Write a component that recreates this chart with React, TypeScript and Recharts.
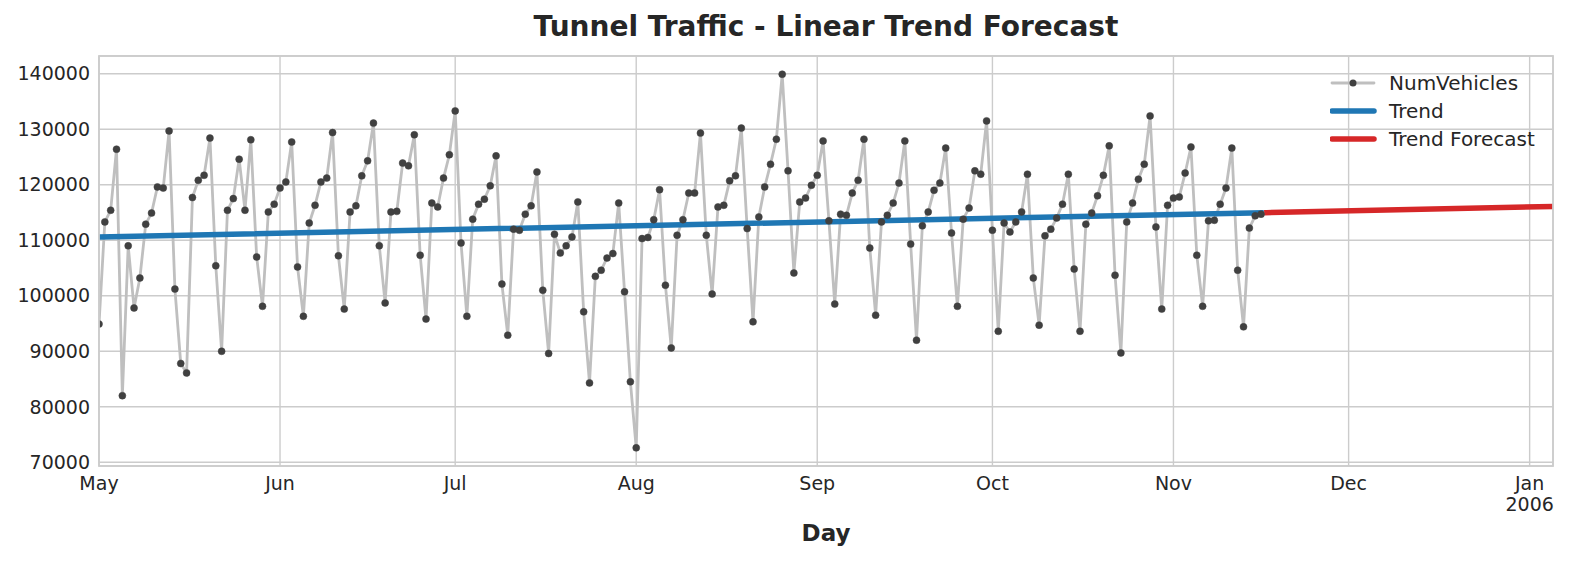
import { LineChart, Line, XAxis, YAxis, CartesianGrid } from 'recharts';

// daily NumVehicles, 2005-05-01 .. 2005-11-16
const numVehicles = [
  94900, 113300, 115400, 126400, 82000, 109000, 97800, 103200, 112900, 114900,
  119600, 119400, 129700, 101200, 87800, 86100, 117700, 120800, 121700, 128400,
  105400, 90000, 115400, 117500, 124600, 115400, 128100, 107000, 98100, 115100,
  116500, 119400, 120500, 127700, 105200, 96300, 113100, 116300, 120500, 121200,
  129400, 107200, 97600, 115100, 116200, 121600, 124300, 131100, 109000, 98700,
  115100, 115200, 123900, 123400, 129000, 107300, 95800, 116700, 116000, 121200,
  125400, 133300, 109500, 96300, 113800, 116500, 117400, 119800, 125200, 102100,
  92900, 112000, 111800, 114700, 116200, 122300, 101000, 89600, 111100, 107700,
  109000, 110600, 116900, 97100, 84300, 103500, 104600, 106800, 107600, 116700,
  100700, 84500, 72600, 110300, 110500, 113700, 119100, 101900, 90600, 110900,
  113700, 118500, 118500, 129300, 110900, 100300, 116000, 116300, 120700, 121600,
  130200, 112100, 95300, 114200, 119600, 123700, 128200, 139900, 122500, 104100,
  116900, 117600, 119900, 121700, 127900, 113500, 98500, 114700, 114500, 118500,
  120800, 128200, 108600, 96500, 113300, 114500, 116700, 120300, 127900, 109300,
  92000, 112600, 115100, 119000, 120300, 126600, 111300, 98100, 113800, 115800,
  122500, 121900, 131500, 111800, 93600, 113100, 111500, 113300, 115100, 121900,
  103200, 94700, 110800, 112000, 114000, 116500, 121900, 104800, 93600, 112900,
  114900, 118000, 121700, 127000, 103700, 89700, 113300, 116700, 121000, 123700,
  132400, 112400, 97600, 116300, 117600, 117800, 122100, 126800, 107300, 98100,
  113500, 113600, 116500, 119400, 126600, 104600, 94400, 112200, 114400, 114700,
];

// linear trend (fitted range) and its forecast, endpoints
const trendDays = [0, 199];
const trendValues = [110600, 114950];
const forecastDays = [200, 249];
const forecastValues = [114970, 116100];

// x = day number since May 1
const monthTicks = [0, 31, 61, 92, 123, 153, 184, 214, 245];
const monthLabels = ['May', 'Jun', 'Jul', 'Aug', 'Sep', 'Oct', 'Nov', 'Dec', 'Jan\n2006'];
const yTicks = [70000, 80000, 90000, 100000, 110000, 120000, 130000, 140000];

const W = 1569;
const H = 561;
const M = { top: 56, right: 16, bottom: 45, left: 0 };
const Y_AXIS_W = 99;
const X_AXIS_H = 50;
const plotLeft = M.left + Y_AXIS_W;
const plotRight = W - M.right;
const plotTop = M.top;
const plotBottom = H - M.bottom - X_AXIS_H;

const FONT = '"DejaVu Sans", sans-serif';
const TEXT = '#262626';
const GRID = '#cccccc';

const series = numVehicles.map((v, i) => ({ day: i, NumVehicles: v }));
const trend = trendDays.map((d, i) => ({ day: d, Trend: trendValues[i] }));
const forecast = forecastDays.map((d, i) => ({ day: d, Forecast: forecastValues[i] }));

function MonthTick({ x, y, payload }: any) {
  const idx = monthTicks.indexOf(payload.value);
  const lines = (monthLabels[idx] ?? '').split('\n');
  return (
    <text x={x} y={y} textAnchor="middle" fill={TEXT} fontSize={19} fontFamily={FONT}>
      {lines.map((l, i) => (
        <tspan key={i} x={x} dy={i === 0 ? 16 : 21}>{l}</tspan>
      ))}
    </text>
  );
}

const legendItems = [
  { name: 'NumVehicles', color: '#bfbfbf', width: 2.8, dot: true },
  { name: 'Trend', color: '#1f77b4', width: 5.5, dot: false },
  { name: 'Trend Forecast', color: '#d62728', width: 5.5, dot: false },
];

export default function App() {
  return (
    <div style={{ position: 'absolute', left: 0, top: 0, width: W, height: H, background: '#fff' }}>
      <LineChart width={W} height={H} margin={M}>
        <CartesianGrid stroke={GRID} strokeWidth={1.4} />
        <XAxis
          dataKey="day"
          type="number"
          domain={[0, 249]}
          ticks={monthTicks}
          allowDataOverflow
          height={X_AXIS_H}
          tickSize={0}
          tickMargin={8}
          tickLine={false}
          axisLine={false}
          tick={<MonthTick />}
          interval={0}
        />
        <YAxis
          type="number"
          domain={[69330, 143190]}
          ticks={yTicks}
          allowDataOverflow
          width={Y_AXIS_W}
          tickSize={0}
          tickMargin={9}
          tickLine={false}
          axisLine={false}
          tick={{ fill: TEXT, fontSize: 19, fontFamily: FONT }}
          interval={0}
        />
        <Line
          data={series}
          dataKey="NumVehicles"
          stroke="#bfbfbf"
          strokeWidth={2.8}
          dot={{ r: 3.5, fill: '#404040', stroke: '#404040', strokeWidth: 0.5 }}
          isAnimationActive={false}
        />
        <Line
          data={trend}
          dataKey="Trend"
          stroke="#1f77b4"
          strokeWidth={5.5}
          strokeLinecap="square"
          dot={false}
          isAnimationActive={false}
        />
        <Line
          data={forecast}
          dataKey="Forecast"
          stroke="#d62728"
          strokeWidth={5.5}
          strokeLinecap="square"
          dot={false}
          isAnimationActive={false}
        />
      </LineChart>

      <svg width={W} height={H} style={{ position: 'absolute', left: 0, top: 0, pointerEvents: 'none' }}>
        <rect
          x={plotLeft}
          y={plotTop}
          width={plotRight - plotLeft}
          height={plotBottom - plotTop}
          fill="none"
          stroke={GRID}
          strokeWidth={1.8}
        />
        <text
          x={(plotLeft + plotRight) / 2}
          y={36}
          textAnchor="middle"
          fontFamily={FONT}
          fontWeight="bold"
          fontSize={28}
          fill={TEXT}
        >
          Tunnel Traffic - Linear Trend Forecast
        </text>
        <text
          x={(plotLeft + plotRight) / 2}
          y={541}
          textAnchor="middle"
          fontFamily={FONT}
          fontWeight="bold"
          fontSize={23}
          fill={TEXT}
        >
          Day
        </text>
      </svg>

      <div style={{ position: 'absolute', left: 1330, top: 69, fontFamily: FONT, fontSize: 20, color: TEXT }}>
        {legendItems.map((it) => (
          <div key={it.name} style={{ display: 'flex', alignItems: 'center', height: 28 }}>
            <svg width={59} height={28}>
              <line x1={2} x2={44} y1={14} y2={14} stroke={it.color} strokeWidth={it.width} strokeLinecap="round" />
              {it.dot && <circle cx={23} cy={14} r={3.5} fill="#404040" />}
            </svg>
            <span>{it.name}</span>
          </div>
        ))}
      </div>
    </div>
  );
}
